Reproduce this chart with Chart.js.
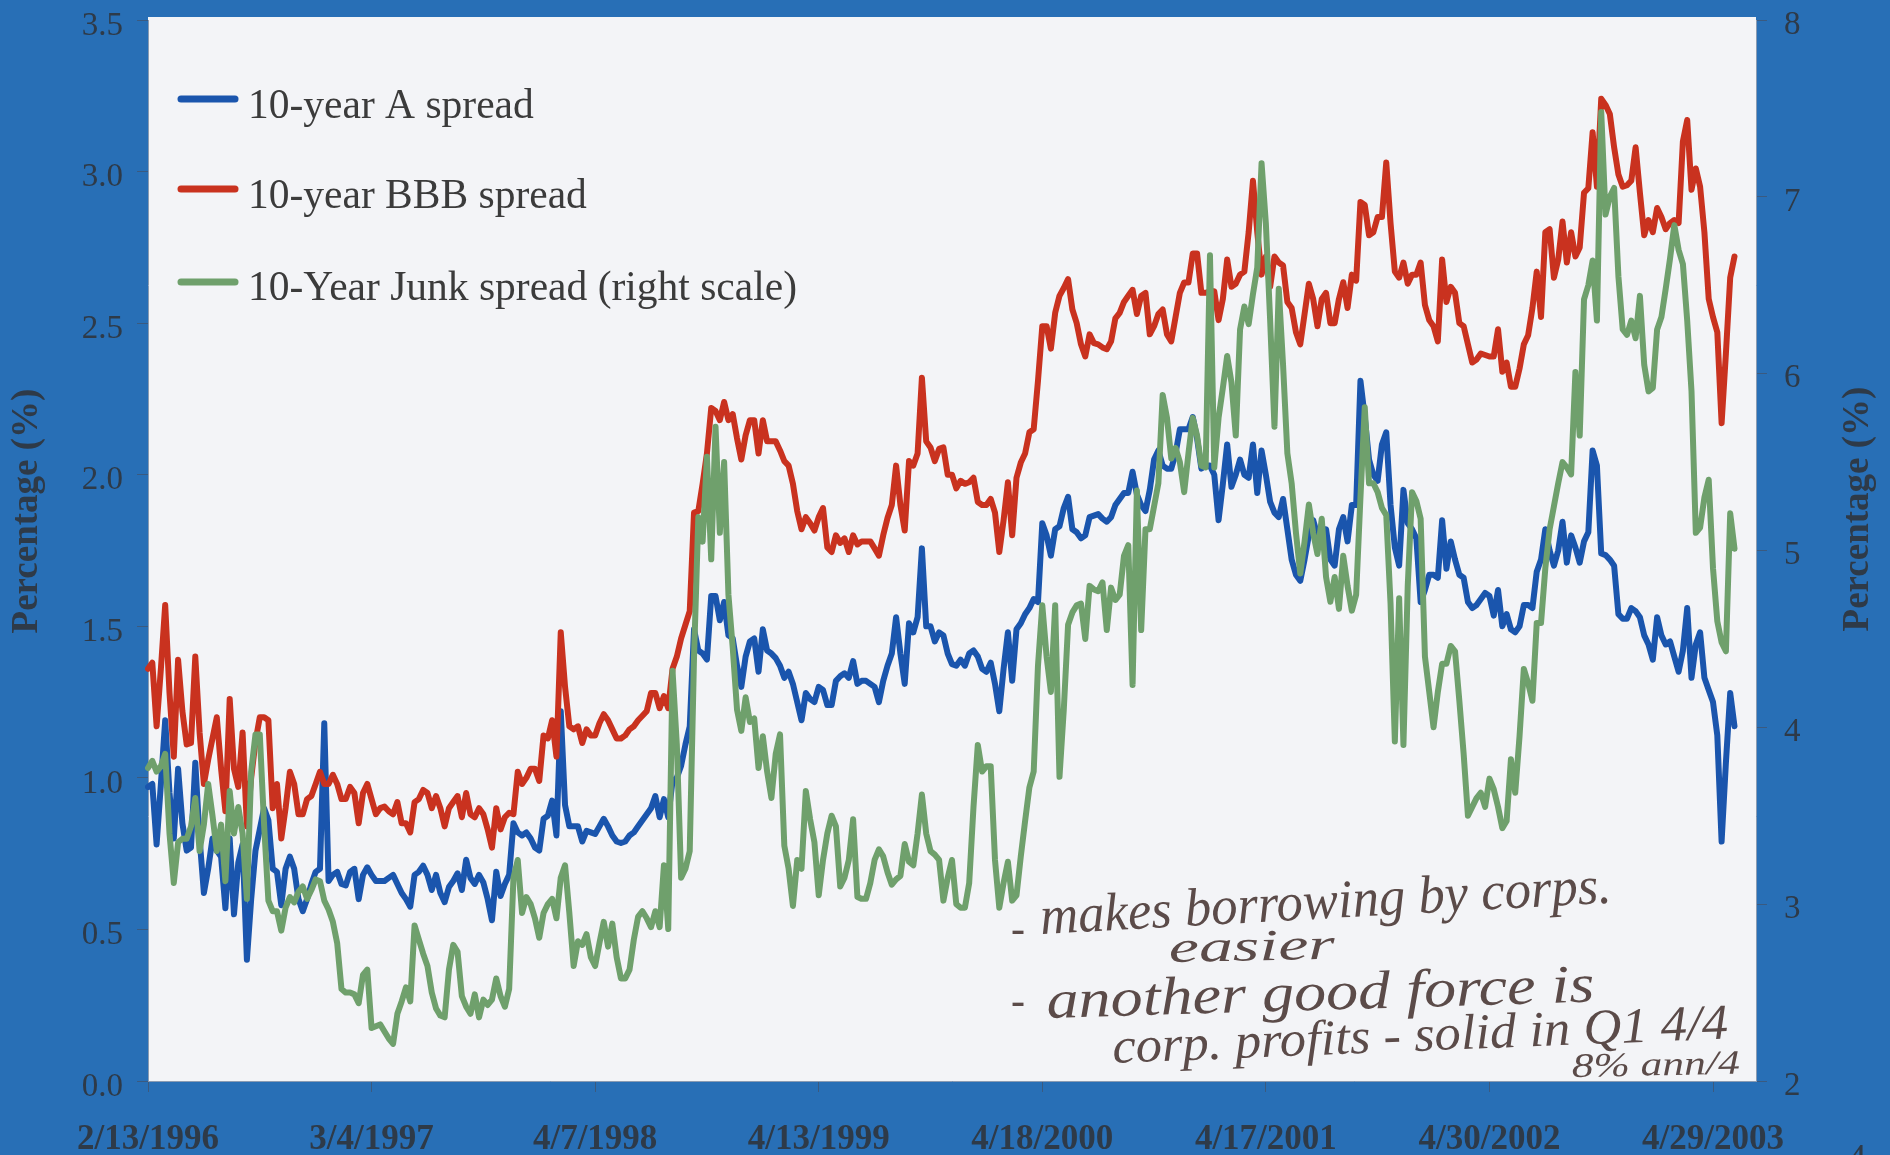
<!DOCTYPE html>
<html>
<head>
<meta charset="utf-8">
<title>10-year credit spreads</title>
<script src="https://cdn.jsdelivr.net/npm/chart.js@4/dist/chart.umd.min.js"></script>
<style>
  html, body { margin: 0; padding: 0; background: #286fb6; overflow: hidden; }
  canvas { display: block; }
</style>
</head>
<body>
<canvas id="spreads" width="1890" height="1155"></canvas>
<script>
// ===== Corporate bond spreads, weekly, two y axes =====

const TICK_LABELS = ['2/13/1996', '3/4/1997', '4/7/1998', '4/13/1999', '4/18/2000', '4/17/2001', '4/30/2002', '4/29/2003'];
const TICK_EVERY = 52;
const WEEKS_ON_AXIS = 375;

const LEFT_TICKS_STEP = 0.5;
const RIGHT_TICKS_STEP = 1;

const A_SPREAD = [
  .97, .98, .78, .98, 1.19, .95, .80, 1.03, .85, .76,
  .77, 1.05, .80, .62, .70, .80, .76, .74, .57, .80,
  .55, .72, .78, .40, .60, .76, .83, .90, .86, .70,
  .69, .58, .70, .74, .70, .60, .56, .60, .65, .69,
  .70, 1.18, .66, .68, .69, .65, .645, .69, .70, .60,
  .68, .705, .68, .66, .66, .66, .67, .68, .65, .62,
  .60, .575, .68, .69, .71, .68, .63, .68, .62, .59,
  .64, .66, .685, .63, .73, .67, .65, .68, .655, .60,
  .53, .69, .61, .65, .68, .85, .82, .81, .82, .80,
  .77, .76, .865, .875, .925, .81, 1.22, .91, .84, .84,
  .84, .79, .825, .82, .815, .84, .865, .84, .81, .79,
  .785, .79, .81, .82, .84, .86, .88, .90, .94, .87,
  .93, .87, .99, 1.00, 1.04, 1.11, 1.17, 1.49, 1.42, 1.41,
  1.39, 1.60, 1.60, 1.52, 1.58, 1.47, 1.46, 1.37, 1.30, 1.40,
  1.45, 1.46, 1.35, 1.49, 1.42, 1.41, 1.395, 1.37, 1.33, 1.35,
  1.31, 1.25, 1.19, 1.28, 1.26, 1.25, 1.30, 1.29, 1.24, 1.24,
  1.32, 1.335, 1.345, 1.33, 1.385, 1.31, 1.32, 1.32, 1.31, 1.30,
  1.25, 1.32, 1.37, 1.41, 1.53, 1.41, 1.31, 1.51, 1.48, 1.53,
  1.757, 1.50, 1.50, 1.45, 1.48, 1.47, 1.41, 1.375, 1.37, 1.39,
  1.37, 1.41, 1.42, 1.40, 1.36, 1.35, 1.38, 1.31, 1.22, 1.36,
  1.48, 1.32, 1.49, 1.51, 1.54, 1.56, 1.59, 1.58, 1.84, 1.80,
  1.733, 1.82, 1.83, 1.89, 1.927, 1.82, 1.81, 1.79, 1.80, 1.86,
  1.865, 1.87, 1.855, 1.845, 1.86, 1.90, 1.92, 1.94, 1.94, 2.01,
  1.935, 1.90, 1.88, 1.95, 2.05, 2.08, 2.03, 2.02, 2.02, 2.07,
  2.15, 2.15, 2.15, 2.19, 2.12, 2.02, 2.03, 2.03, 2.00, 1.85,
  1.97, 2.10, 1.96, 2.00, 2.05, 2.00, 1.99, 2.10, 1.94, 2.08,
  2.00, 1.91, 1.875, 1.86, 1.92, 1.82, 1.72, 1.67, 1.65, 1.72,
  1.80, 1.85, 1.80, 1.82, 1.82, 1.72, 1.70, 1.82, 1.86, 1.78,
  1.90, 1.90, 2.31, 2.19, 2.05, 2.00, 1.98, 2.10, 2.14, 1.90,
  1.76, 1.70, 1.95, 1.84, 1.82, 1.79, 1.58, 1.62, 1.67, 1.67,
  1.66, 1.85, 1.69, 1.78, 1.72, 1.67, 1.66, 1.58, 1.56, 1.57,
  1.59, 1.61, 1.60, 1.535, 1.62, 1.50, 1.54, 1.49, 1.48, 1.50,
  1.57, 1.57, 1.56, 1.68, 1.72, 1.82, 1.75, 1.70, 1.75, 1.845,
  1.71, 1.80, 1.76, 1.71, 1.78, 1.81, 2.08, 2.03, 1.74, 1.735,
  1.72, 1.70, 1.54, 1.525, 1.525, 1.56, 1.55, 1.53, 1.47, 1.44,
  1.39, 1.53, 1.47, 1.44, 1.45, 1.40, 1.35, 1.42, 1.56, 1.33,
  1.44, 1.48, 1.33, 1.29, 1.25, 1.14, .79, 1.05, 1.28, 1.17
];

const BBB_SPREAD = [
  1.36, 1.38, 1.17, 1.36, 1.57, 1.28, 1.07, 1.39, 1.22, 1.11,
  1.115, 1.40, 1.15, .98, 1.06, 1.13, 1.20, 1.03, .89, 1.26,
  1.03, .97, 1.15, .84, 1.00, 1.12, 1.20, 1.20, 1.19, .90,
  .98, .80, .90, 1.02, .98, .88, .88, .93, .94, .98,
  1.02, .98, .98, 1.01, .98, .93, .93, .97, .95, .85,
  .95, .98, .93, .88, .90, .905, .89, .88, .92, .85,
  .85, .82, .92, .93, .96, .95, .90, .94, .90, .84,
  .90, .92, .94, .87, .95, .88, .87, .90, .88, .83,
  .77, .90, .83, .87, .885, .88, 1.02, .98, 1.00, 1.03,
  1.03, .99, 1.14, 1.13, 1.19, 1.07, 1.48, 1.30, 1.17, 1.16,
  1.17, 1.115, 1.16, 1.14, 1.14, 1.18, 1.21, 1.19, 1.16, 1.13,
  1.13, 1.14, 1.16, 1.17, 1.19, 1.205, 1.22, 1.28, 1.28, 1.23,
  1.27, 1.23, 1.36, 1.40, 1.46, 1.505, 1.55, 1.875, 1.88, 1.97,
  2.07, 2.22, 2.21, 2.18, 2.24, 2.18, 2.20, 2.12, 2.05, 2.13,
  2.18, 2.18, 2.07, 2.18, 2.11, 2.11, 2.11, 2.08, 2.045, 2.03,
  1.97, 1.88, 1.82, 1.86, 1.84, 1.816, 1.86, 1.89, 1.76, 1.745,
  1.80, 1.775, 1.79, 1.745, 1.80, 1.77, 1.78, 1.78, 1.78, 1.757,
  1.733, 1.80, 1.857, 1.90, 2.03, 1.90, 1.816, 2.045, 2.03, 2.07,
  2.32, 2.11, 2.09, 2.045, 2.085, 2.09, 2.00, 2.00, 1.955, 1.98,
  1.97, 1.975, 1.99, 1.91, 1.90, 1.90, 1.92, 1.875, 1.745, 1.85,
  1.975, 1.80, 1.99, 2.04, 2.07, 2.14, 2.15, 2.31, 2.49, 2.49,
  2.416, 2.534, 2.59, 2.616, 2.645, 2.545, 2.50, 2.43, 2.39, 2.463,
  2.434, 2.43, 2.42, 2.414, 2.44, 2.516, 2.534, 2.57, 2.59, 2.61,
  2.53, 2.59, 2.60, 2.463, 2.49, 2.53, 2.545, 2.463, 2.44, 2.52,
  2.60, 2.634, 2.634, 2.73, 2.73, 2.60, 2.60, 2.605, 2.605, 2.51,
  2.58, 2.71, 2.62, 2.63, 2.66, 2.67, 2.80, 2.97, 2.80, 2.66,
  2.72, 2.62, 2.72, 2.70, 2.69, 2.57, 2.55, 2.47, 2.43, 2.53,
  2.63, 2.58, 2.49, 2.58, 2.60, 2.50, 2.50, 2.58, 2.635, 2.55,
  2.66, 2.64, 2.90, 2.89, 2.79, 2.80, 2.85, 2.85, 3.03, 2.83,
  2.67, 2.65, 2.70, 2.63, 2.66, 2.66, 2.70, 2.56, 2.51, 2.49,
  2.44, 2.71, 2.57, 2.62, 2.60, 2.50, 2.49, 2.43, 2.37, 2.38,
  2.40, 2.395, 2.39, 2.39, 2.48, 2.34, 2.37, 2.29, 2.29, 2.35,
  2.43, 2.46, 2.55, 2.67, 2.52, 2.80, 2.81, 2.65, 2.71, 2.835,
  2.70, 2.80, 2.72, 2.75, 2.93, 2.945, 3.13, 2.95, 3.24, 3.22,
  3.19, 3.08, 2.99, 2.95, 2.955, 2.97, 3.08, 2.93, 2.79, 2.84,
  2.80, 2.88, 2.85, 2.81, 2.83, 2.84, 2.83, 3.10, 3.17, 2.94,
  3.01, 2.95, 2.80, 2.58, 2.52, 2.47, 2.17, 2.40, 2.65, 2.72
];

const JUNK_SPREAD = [
  3.77, 3.81, 3.75, 3.78, 3.85, 3.40, 3.12, 3.35, 3.37, 3.37,
  3.44, 3.60, 3.30, 3.45, 3.68, 3.50, 3.30, 3.45, 3.13, 3.64,
  3.40, 3.55, 3.40, 3.03, 3.75, 3.96, 3.96, 3.45, 3.02, 2.96,
  2.96, 2.85, 2.98, 3.04, 3.01, 3.07, 3.10, 3.03, 3.08, 3.14,
  3.13, 3.02, 2.97, 2.90, 2.78, 2.52, 2.50, 2.50, 2.49, 2.44,
  2.60, 2.63, 2.30, 2.31, 2.32, 2.28, 2.24, 2.21, 2.38, 2.45,
  2.53, 2.45, 2.88, 2.80, 2.72, 2.65, 2.50, 2.41, 2.37, 2.36,
  2.63, 2.77, 2.73, 2.48, 2.42, 2.38, 2.49, 2.36, 2.46, 2.43,
  2.46, 2.58, 2.48, 2.42, 2.52, 3.15, 3.25, 2.95, 3.04, 3.00,
  2.92, 2.81, 2.95, 3.00, 3.03, 2.92, 3.15, 3.22, 2.95, 2.65,
  2.79, 2.77, 2.83, 2.70, 2.65, 2.78, 2.90, 2.76, 2.89, 2.70,
  2.58, 2.58, 2.63, 2.80, 2.93, 2.96, 2.92, 2.87, 2.96, 2.87,
  3.22, 2.86, 4.32, 3.90, 3.15, 3.20, 3.30, 4.40, 5.19, 5.05,
  5.53, 4.95, 5.70, 5.10, 5.50, 4.75, 4.45, 4.10, 3.98, 4.17,
  4.03, 4.05, 3.77, 3.95, 3.75, 3.60, 3.85, 3.96, 3.33, 3.20,
  2.99, 3.25, 3.20, 3.64, 3.48, 3.35, 3.05, 3.25, 3.40, 3.50,
  3.44, 3.10, 3.15, 3.25, 3.48, 3.04, 3.03, 3.03, 3.12, 3.25,
  3.31, 3.27, 3.18, 3.11, 3.14, 3.16, 3.34, 3.24, 3.22, 3.40,
  3.62, 3.40, 3.30, 3.28, 3.25, 3.02, 3.15, 3.25, 3.00, 2.98,
  2.98, 3.12, 3.55, 3.90, 3.75, 3.78, 3.78, 3.25, 2.98, 3.12,
  3.24, 3.02, 3.05, 3.27, 3.47, 3.66, 3.75, 4.35, 4.69, 4.40,
  4.20, 4.69, 3.72, 4.10, 4.58, 4.65, 4.69, 4.70, 4.50, 4.80,
  4.78, 4.77, 4.82, 4.55, 4.79, 4.72, 4.75, 4.97, 5.03, 4.24,
  5.34, 4.55, 5.12, 5.12, 5.25, 5.38, 5.88, 5.75, 5.52, 5.58,
  5.50, 5.33, 5.55, 5.75, 5.65, 5.48, 5.47, 6.67, 5.47, 5.75,
  5.92, 6.10, 5.95, 5.65, 6.25, 6.38, 6.28, 6.45, 6.60, 7.19,
  6.85, 6.30, 5.70, 6.48, 6.05, 5.55, 5.38, 5.10, 4.87, 5.05,
  5.26, 5.10, 4.98, 5.18, 4.85, 4.71, 4.85, 4.67, 4.97, 4.80,
  4.66, 4.75, 5.30, 5.81, 5.38, 5.38, 5.33, 5.24, 5.20, 4.70,
  3.92, 4.73, 3.90, 4.80, 5.33, 5.28, 5.18, 4.40, 4.20, 4.00,
  4.20, 4.36, 4.36, 4.46, 4.43, 4.15, 3.85, 3.50, 3.55, 3.60,
  3.63, 3.55, 3.71, 3.65, 3.55, 3.43, 3.47, 3.82, 3.63, 3.95,
  4.33, 4.25, 4.15, 4.59, 4.59, 4.90, 5.12, 5.25, 5.38, 5.50,
  5.47, 5.43, 6.01, 5.65, 6.42, 6.50, 6.64, 6.30, 7.48, 6.90,
  7.00, 7.05, 6.55, 6.25, 6.22, 6.30, 6.20, 6.44, 6.05, 5.90,
  5.92, 6.25, 6.32, 6.48, 6.65, 6.84, 6.70, 6.62, 6.30, 5.90,
  5.10, 5.13, 5.30, 5.40, 4.90, 4.60, 4.48, 4.43, 5.21, 5.01
];

const COL = { A: '#1a55ad', BBB: '#c9321f', JUNK: '#6fa06c', INK: '#2e3a48', PEN: '#5b4b49', TICK: '#3a5a80', PAPER: '#f3f4f7' };
const SERIF = '"Liberation Serif", "Times New Roman", serif';

// one label per week on the axis, only every TICK_EVERY-th one carries text
const xLabels = [];
for (let i = 0; i < WEEKS_ON_AXIS; i++) {
  xLabels.push(i % TICK_EVERY === 0 ? TICK_LABELS[i / TICK_EVERY] : '');
}

function mkLine(label, data, color, axis, order) {
  return {
    label, data, borderColor: color, backgroundColor: color, yAxisID: axis, order,
    borderWidth: 6, pointRadius: 0, tension: 0, fill: false,
    borderJoinStyle: 'round', borderCapStyle: 'round'
  };
}

// y axes keep a fixed width and do not push the plot down for their end labels
function fixSide(width) {
  return s => { s.width = width; s.paddingTop = 0; s.paddingBottom = 0; };
}

// writes a string stretched sideways to a given width and tilted along its baseline
function penText(ctx, text, x, y, width, size, tilt) {
  ctx.save();
  ctx.font = 'italic ' + size + 'px ' + SERIF;
  ctx.fillStyle = COL.PEN;
  ctx.textAlign = 'left';
  ctx.textBaseline = 'alphabetic';
  ctx.translate(x, y);
  ctx.rotate(tilt);
  ctx.scale(width / ctx.measureText(text).width, 1);
  ctx.fillText(text, 0, 0);
  ctx.restore();
}

function sideTitle(ctx, text, x, y) {
  ctx.save();
  ctx.font = 'bold 37px ' + SERIF;
  ctx.fillStyle = COL.INK;
  ctx.textAlign = 'center';
  ctx.textBaseline = 'middle';
  ctx.translate(x, y);
  ctx.rotate(-Math.PI / 2);
  ctx.fillText(text, 0, 0);
  ctx.restore();
}

const paperPlugin = {
  id: 'paper',
  beforeDraw(chart) {
    const { ctx, chartArea: a } = chart;
    ctx.save();
    ctx.fillStyle = COL.PAPER;
    ctx.fillRect(a.left, a.top - 3, a.right - a.left, a.bottom - a.top + 3);
    ctx.restore();
  }
};

const legendPlugin = {
  id: 'inlineLegend',
  afterDraw(chart) {
    const ctx = chart.ctx;
    const rows = [[0, 99, 118], [1, 189, 208], [2, 282, 300]];
    ctx.save();
    ctx.font = '41.5px ' + SERIF;
    ctx.textAlign = 'left';
    ctx.textBaseline = 'alphabetic';
    rows.forEach(([i, lineY, textY]) => {
      const ds = chart.data.datasets[i];
      ctx.strokeStyle = ds.borderColor;
      ctx.lineWidth = 7;
      ctx.lineCap = 'round';
      ctx.beginPath();
      ctx.moveTo(181, lineY);
      ctx.lineTo(235, lineY);
      ctx.stroke();
      ctx.fillStyle = '#3b3b3b';
      ctx.fillText(ds.label, 248, textY);
    });
    ctx.restore();
  }
};

const notesPlugin = {
  id: 'notes',
  afterDraw(chart) {
    const ctx = chart.ctx;
    sideTitle(ctx, 'Percentage (%)', 27, 511);
    sideTitle(ctx, 'Percentage (%)', 1858, 509);

    penText(ctx, '-', 1011, 943, 14, 44, 0);
    penText(ctx, 'makes borrowing by corps.', 1041, 934, 572, 54, -0.055);
    penText(ctx, 'easier', 1169, 962, 166, 44, -0.02);
    penText(ctx, '-', 1011, 1015, 14, 44, 0);
    penText(ctx, 'another good force is', 1047, 1018, 548, 54, -0.03);
    penText(ctx, 'corp. profits - solid in Q1 4/4', 1113, 1063, 616, 50, -0.04);
    penText(ctx, '8% ann/4', 1572, 1077, 168, 34, -0.02);

    // page number, cut off by the bottom edge
    ctx.save();
    ctx.font = '38px ' + SERIF;
    ctx.fillStyle = COL.INK;
    ctx.textAlign = 'center';
    ctx.fillText('4', 1857, 1170);
    ctx.restore();
  }
};

new Chart(document.getElementById('spreads'), {
  type: 'line',
  data: {
    labels: xLabels,
    datasets: [
      mkLine('10-year A spread', A_SPREAD, COL.A, 'y', 3),
      mkLine('10-year BBB spread', BBB_SPREAD, COL.BBB, 'y', 2),
      mkLine('10-Year Junk spread (right scale)', JUNK_SPREAD, COL.JUNK, 'y1', 1)
    ]
  },
  options: {
    responsive: false,
    animation: false,
    layout: { padding: { top: 20 } },
    plugins: { legend: { display: false }, tooltip: { enabled: false } },
    scales: {
      x: {
        type: 'category',
        afterBuildTicks: s => { s.ticks = s.ticks.filter(t => t.value % TICK_EVERY === 0); },
        afterFit: s => { s.height = 74; },
        grid: { display: true, drawOnChartArea: false, drawTicks: true, tickLength: 11, color: COL.TICK },
        border: { color: '#8a9bb2' },
        ticks: {
          autoSkip: false, maxRotation: 0, minRotation: 0, padding: 27,
          color: COL.INK, font: { family: SERIF, size: 35, weight: 'bold' }
        }
      },
      y: {
        position: 'left', min: 0, max: 3.5,
        afterFit: fixSide(148),
        grid: { drawOnChartArea: false, tickLength: 11, color: COL.TICK },
        border: { color: '#8a9bb2' },
        ticks: {
          stepSize: LEFT_TICKS_STEP, padding: 14, labelOffset: 6, color: COL.INK,
          font: { family: SERIF, size: 33 },
          callback: v => v.toFixed(1)
        }
      },
      y1: {
        position: 'right', min: 2, max: 8,
        afterFit: fixSide(134),
        grid: { drawOnChartArea: false, tickLength: 11, color: COL.TICK },
        border: { color: '#8a9bb2' },
        ticks: {
          stepSize: RIGHT_TICKS_STEP, padding: 17, labelOffset: 5, color: COL.INK,
          font: { family: SERIF, size: 33 }
        }
      }
    }
  },
  plugins: [paperPlugin, legendPlugin, notesPlugin]
});
</script>
</body>
</html>
